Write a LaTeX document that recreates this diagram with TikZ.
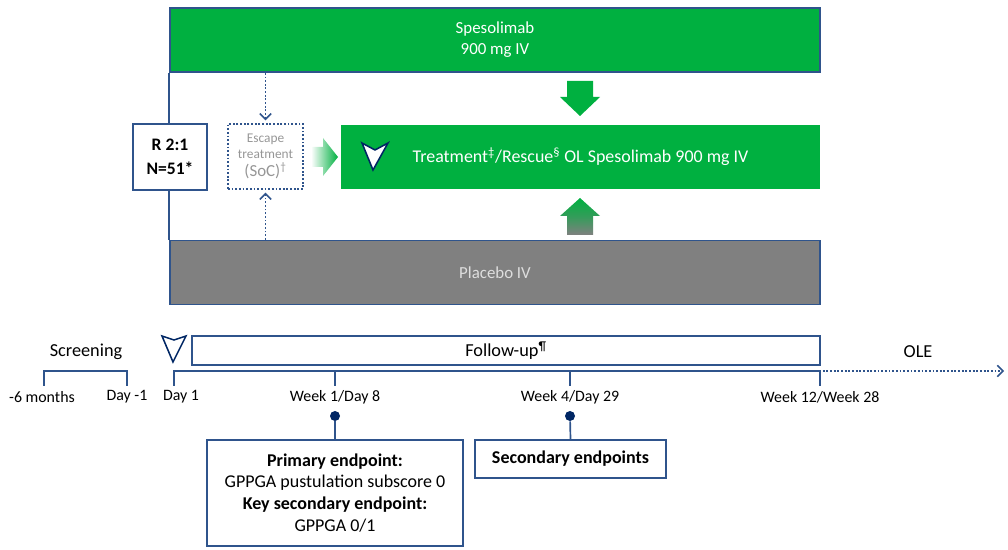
\documentclass[tikz,border=0pt]{standalone}
\usepackage{fontspec}
\setmainfont{Carlito}
\usetikzlibrary{arrows.meta,positioning}

\definecolor{spesgreen}{RGB}{0,176,64}
\definecolor{frameblue}{RGB}{47,84,140}
\definecolor{navy}{RGB}{0,38,100}
\definecolor{placegray}{RGB}{128,128,128}
\definecolor{placetext}{RGB}{222,222,222}
\definecolor{softgray}{RGB}{150,150,150}

\begin{document}
\begin{tikzpicture}[
    x=0.025cm, y=-0.025cm,
    every node/.style={font=\fontsize{12}{15}\selectfont, inner sep=0pt, align=center},
    armbox/.style={draw=frameblue, line width=1.2pt, minimum width=16.25cm, minimum height=1.6cm},
    plainbox/.style={draw=frameblue, line width=1.2pt, fill=white},
    dotarrow/.style={frameblue, line width=1.3pt, dash pattern=on 1.3pt off 1.3pt,
                     -{Straight Barb[length=4pt,width=8pt,line width=1.1pt]}},
    tline/.style={frameblue, line width=1.2pt},
    chev/.style={draw=navy, line width=1.1pt, line join=miter},
    bigtext/.style={font=\fontsize{13}{16}\selectfont},
]
    \path (0,0) rectangle (1008,550);

    % arms
    \node[armbox, fill=spesgreen, text=white] (spes) at (495,40) {Spesolimab\\900 mg IV};
    \node[armbox, fill=placegray, text=placetext] (plac) at (495,272.5) {Placebo IV};
    \draw[tline] (spes.south west) -- (plac.north west);

    \node[plainbox, minimum width=1.85cm, minimum height=1.65cm,
          font=\bfseries\fontsize{12.5}{17}\selectfont] (rand) at (170,157) {R 2:1\\N=51*};
    \node[draw=frameblue, dash pattern=on 1.3pt off 1.3pt, line width=1.3pt, minimum width=1.875cm, minimum height=1.625cm,
          text=softgray, font=\fontsize{9.5}{11.5}\selectfont] (esc) at (265.5,156.5)
          {Escape\\treatment\\[1pt]{\fontsize{12}{14}\selectfont (SoC)\textsuperscript{†}}};
    \draw[dotarrow, shorten >=2pt] (esc.north |- spes.south) -- (esc.north);
    \draw[dotarrow, shorten >=2pt] (esc.south |- plac.north) -- (esc.south);

    \node[fill=spesgreen, text=white, minimum width=11.975cm, minimum height=1.6cm,
          font=\fontsize{12.75}{15}\selectfont] (treat) at (580.5,157)
          {Treatment\textsuperscript{‡}/Rescue\textsuperscript{§} OL Spesolimab 900 mg IV};

    % block arrows
    \shade[left color=white, right color=spesgreen]
        (311,147) -- (323,147) -- (323,138) -- (338,157) -- (323,176) -- (323,167) -- (311,167) -- cycle;
    \fill[spesgreen] (567,81) -- (593,81) -- (593,97) -- (600,97) -- (580,116) -- (560,97) -- (567,97) -- cycle;
    \shade[top color=spesgreen, bottom color=placegray, middle color=spesgreen!60!placegray]
        (580,198) -- (600,216) -- (593,216) -- (593,235) -- (567,235) -- (567,216) -- (560,216) -- cycle;
    \filldraw[chev, fill=white] (362,143) -- (375,150) -- (388,143) -- (373,170) -- cycle;

    % timeline
    \node[bigtext] (scr) at (86,352) {Screening};
    \node[plainbox, bigtext, minimum width=15.7cm, minimum height=0.725cm] (fu) at (506,350.5) {Follow-up\textsuperscript{¶}};
    \node[bigtext] (ole) at (918,352) {OLE};
    \draw[chev] (162,336) -- (174,340) -- (186,336) -- (173,362) -- cycle;

    \coordinate (s0) at (44,371);
    \coordinate (s1) at (127,371);
    \coordinate (t0) at (174,371);
    \coordinate (t3) at (820,371);
    \coordinate (oleend) at (1004,371);
    \draw[tline] (s0) ++(0,15) -- (s0) -- (s1) -- ++(0,15);
    \draw[tline] (t0) ++(0,15) -- (t0) -- (t3) -- ++(0,15);
    \foreach \x in {335,570}
        \draw[tline] (\x,371) -- ++(0,15);
    \draw[dotarrow] ([xshift=2pt]t3) -- (oleend);

    \foreach \x/\lab/\nm in {42/{-6 months}/lm6, 127/{Day -1}/ldm1, 181/{Day 1}/ld1,
                            335/{Week 1/Day 8}/lw1, 570/{Week 4/Day 29}/lw4, 820/{Week 12/Week 28}/lw12}
        \node[font=\fontsize{11.3}{13}\selectfont] (\nm) at (\x,397) {\lab};

    % endpoints
    \node[plainbox, minimum width=6.4cm, minimum height=2.65cm, font=\fontsize{12.8}{15.6}\selectfont] (prim) at (335,493)
        {\textbf{Primary endpoint:}\\GPPGA pustulation subscore 0\\\textbf{Key secondary endpoint:}\\GPPGA 0/1};
    \node[plainbox, minimum width=4.775cm, minimum height=0.95cm, font=\bfseries\fontsize{12.8}{15}\selectfont] (sec) at (570.5,459)
        {Secondary endpoints};
    \node[circle, fill=navy, minimum size=0.25cm] (dot1) at (335,416) {};
    \node[circle, fill=navy, minimum size=0.25cm] (dot4) at (570,416) {};
    \draw[tline] (dot1) -- (prim.north);
    \draw[tline] (dot4) -- (sec.north);
\end{tikzpicture}
\end{document}
